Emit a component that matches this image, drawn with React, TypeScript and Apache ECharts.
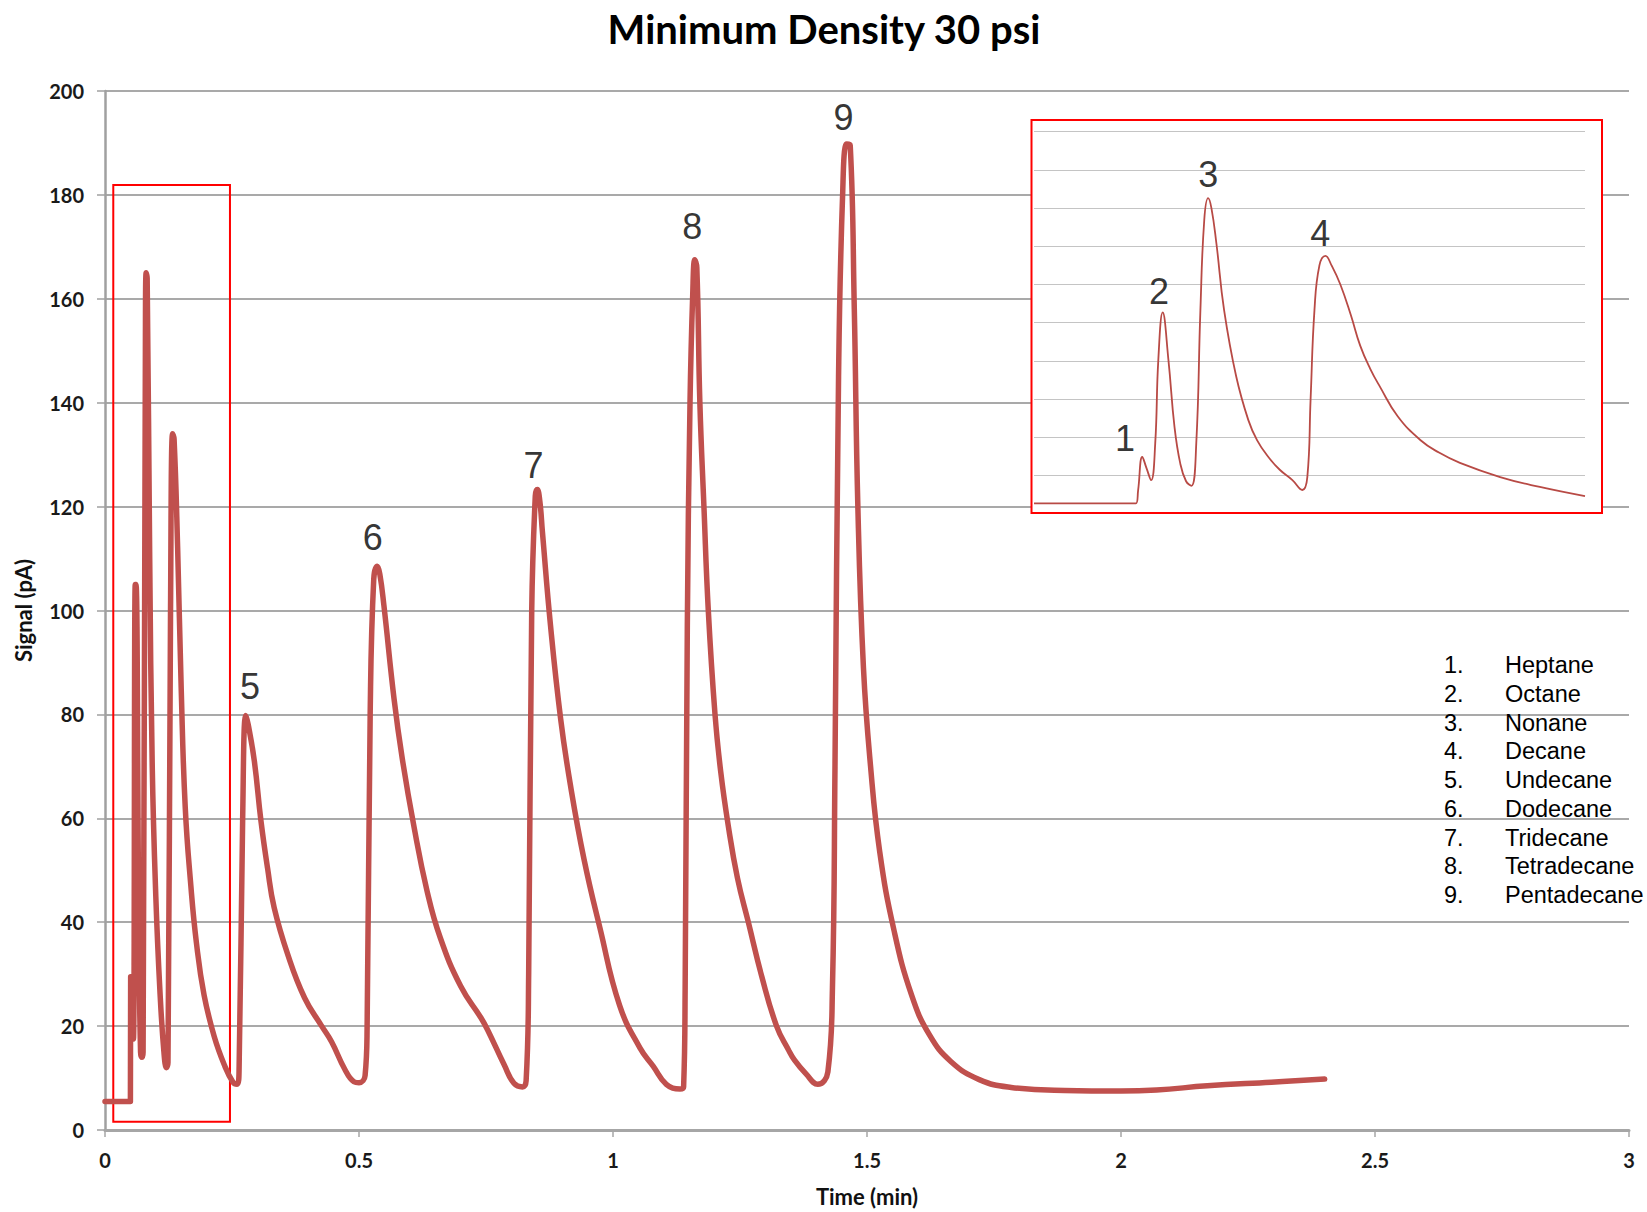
import React, { useEffect, useRef } from "react";
import * as echarts from "echarts";

// ---- main chromatogram (time in min, signal in pA) ----
const mainTime = [
  0.0, 0.05, 0.0505, 0.053, 0.054, 0.056, 0.0595, 0.061, 0.0665, 0.07, 0.073, 0.075,
  0.0795, 0.081, 0.083, 0.088, 0.093, 0.1, 0.108, 0.116, 0.121, 0.124, 0.129, 0.133,
  0.136, 0.143, 0.15, 0.158, 0.169, 0.18, 0.195, 0.215, 0.235, 0.252, 0.26, 0.264,
  0.271, 0.277, 0.282, 0.294, 0.307, 0.32, 0.333, 0.36, 0.393, 0.426, 0.446, 0.472,
  0.49, 0.5, 0.512, 0.516, 0.522, 0.529, 0.536, 0.541, 0.549, 0.569, 0.585, 0.608,
  0.634, 0.66, 0.7, 0.74, 0.753, 0.786, 0.805, 0.822, 0.829, 0.834, 0.84, 0.847,
  0.851, 0.856, 0.861, 0.877, 0.897, 0.916, 0.943, 0.974, 1.013, 1.053, 1.079, 1.105,
  1.132, 1.139, 1.142, 1.1463, 1.1516, 1.157, 1.161, 1.165, 1.171, 1.179, 1.1876, 1.2008,
  1.212, 1.227, 1.245, 1.2664, 1.293, 1.322, 1.345, 1.357, 1.38, 1.403, 1.423, 1.432,
  1.437, 1.444, 1.452, 1.46, 1.467, 1.475, 1.482, 1.493, 1.507, 1.525, 1.553, 1.588,
  1.623, 1.665, 1.721, 1.784, 1.889, 2.0, 2.07, 2.17, 2.296, 2.401,
];
const mainSignal = [
  5.5, 5.5, 29.5, 29.5, 17.5, 17.5, 105, 105, 40, 15, 14, 15,
  150, 165, 164, 110, 70, 45, 27, 15, 12, 13, 100, 134,
  133, 112, 85, 62, 47, 36, 26, 18, 12.5, 9.2, 8.8, 12,
  60, 79.8, 78, 71, 59.5, 50.4, 42.8, 33.7, 25.4, 20.1, 17, 11.7,
  9.3, 9.1, 10.5, 20, 80, 106, 108.5, 107, 101, 83, 71.6, 58.5,
  46, 37, 27.7, 21.6, 19.3, 12.5, 9, 8.3, 9.5, 30, 100, 122,
  123.3, 121, 115.2, 97.1, 79.1, 66.5, 52.1, 39, 24, 15.8, 12.3, 8.8,
  7.9, 8.3, 27, 97, 140, 161, 167.5, 166, 140, 120, 100, 80,
  69, 58.5, 48.5, 40, 29.5, 20, 15.5, 13.5, 10.8, 8.8, 11.2, 27.4,
  70, 145, 180, 189.8, 189.5, 158, 120, 89, 70, 53.6, 38.5, 25.9,
  18.3, 13.2, 9.7, 8.2, 7.6, 7.5, 7.7, 8.5, 9.2, 9.8,
];

// peak number labels on the main chart
const peakLabels = ["5", "6", "7", "8", "9"];
const peakLabelTime = [0.2854, 0.527, 0.8437, 1.156, 1.4537];
const peakLabelSignal = [85.4, 114.1, 128.0, 173.9, 194.9];

// ---- inset (enlargement of the first minutes, arbitrary units) ----
const insetX = [
  0, 18.5, 18.9, 19.65, 20.4, 21.25, 22.0, 22.56, 23.36, 24.4, 25.5, 26.55,
  27.6, 28.57, 29.45, 30.2, 30.9, 31.6, 32.2, 33.1, 34.5, 36.7, 38.9, 40.5,
  42.5, 44.6, 46.9, 48.7, 49.6, 50.2, 50.9, 51.8, 52.9, 54.0, 55.6, 57.5,
  59.2, 61.0, 62.8, 66.0, 70.1, 73.5, 77.3, 84.6, 91.8, 100,
];
const insetY = [
  0.27, 0.27, 0.62, 1.49, 1.2, 0.88, 1.84, 4.02, 5.27, 4.02, 2.27, 1.31,
  0.85, 0.73, 1.84, 5.33, 7.69, 8.26, 8.0, 7.08, 5.33, 3.59, 2.45, 1.92,
  1.49, 1.15, 0.88, 0.62, 0.95, 3.0, 5.33, 6.5, 6.75, 6.5, 6.0, 5.2,
  4.4, 3.8, 3.32, 2.55, 1.93, 1.6, 1.33, 0.96, 0.7, 0.46,
];
const insetLabels = ["1", "2", "3", "4"];
const insetLabelX = [16.53, 22.7, 31.63, 51.96];
const insetLabelY = [1.97, 5.81, 8.87, 7.34];

// ---- compound key ----
const keyNumbers = ["1.", "2.", "3.", "4.", "5.", "6.", "7.", "8.", "9."];
const keyNames = [
  "Heptane", "Octane", "Nonane", "Decane", "Undecane",
  "Dodecane", "Tridecane", "Tetradecane", "Pentadecane",
];

// highlighted region on main chart (data coords)
const boxTime = [0.0163, 0.246];
const boxSignal = [1.6, 181.9];

const xTicks = { min: 0, max: 3, interval: 0.5 };
const yTicks = { min: 0, max: 200, interval: 20 };

const LINE_COLOR = "#c0504d";
const AXIS_FONT = "Lato";

export default function App() {
  const ref = useRef<HTMLDivElement>(null);

  useEffect(() => {
    document.body.style.margin = "0";
    if (!ref.current) return;
    const chart = echarts.init(ref.current, undefined, { renderer: "svg" });

    const mainData = mainTime.map((t, i) => [t, mainSignal[i]]);
    const insetData = insetX.map((t, i) => [t, insetY[i]]);
    const peakData = peakLabels.map((l, i) => [peakLabelTime[i], peakLabelSignal[i], l]);
    const insetLabelData = insetLabels.map((l, i) => [insetLabelX[i], insetLabelY[i], l]);

    const keyGraphics: any[] = [];
    keyNumbers.forEach((n, i) => {
      const y = 665 + i * 28.75;
      keyGraphics.push({
        type: "text", x: 1444, y, z: 10,
        style: { text: n, fontSize: 23.5, fontFamily: "Liberation Sans", fill: "#000", align: "left", verticalAlign: "middle" },
      });
      keyGraphics.push({
        type: "text", x: 1505, y, z: 10,
        style: { text: keyNames[i], fontSize: 23.5, fontFamily: "Liberation Sans", fill: "#000", align: "left", verticalAlign: "middle" },
      });
    });

    chart.setOption({
      animation: false,
      backgroundColor: "#fff",
      title: {
        text: "Minimum Density 30 psi",
        left: 819,
        top: 4,
        textAlign: "center",
        textStyle: { fontFamily: AXIS_FONT, fontWeight: "bold", fontSize: 40, color: "#000" },
      },
      grid: [
        { left: 105, right: 18, top: 91, bottom: 81 },
        { left: 1034, top: 131.7, width: 551, height: 382 },
      ],
      xAxis: [
        {
          type: "value", gridIndex: 0, ...xTicks,
          name: "Time (min)", nameLocation: "middle", nameGap: 55,
          nameTextStyle: { fontFamily: AXIS_FONT, fontWeight: "bold", fontSize: 22, color: "#111" },
          axisLine: { show: true, onZero: false, lineStyle: { color: "#a6a6a6", width: 3 } },
          axisTick: { show: true, length: 7, lineStyle: { color: "#a6a6a6", width: 1.5 } },
          axisLabel: { margin: 20, fontFamily: AXIS_FONT, fontWeight: "bold", fontSize: 20, color: "#1a1a1a" },
          splitLine: { show: false },
        },
        { type: "value", gridIndex: 1, min: 0, max: 100, show: false },
      ],
      yAxis: [
        {
          type: "value", gridIndex: 0, ...yTicks,
          name: "Signal (pA)", nameLocation: "middle", nameGap: 71,
          nameTextStyle: { fontFamily: AXIS_FONT, fontWeight: "bold", fontSize: 22, color: "#111" },
          axisLine: { show: true, lineStyle: { color: "#a0a0a0", width: 2.5 } },
          axisTick: { show: true, length: 8, lineStyle: { color: "#a0a0a0", width: 1.5 } },
          axisLabel: { margin: 21, fontFamily: AXIS_FONT, fontWeight: "bold", fontSize: 20, color: "#1a1a1a" },
          splitLine: { show: true, lineStyle: { color: "#8c8c8c", width: 1.5 } },
        },
        {
          type: "value", gridIndex: 1, min: 0, max: 10, interval: 1, z: 4,
          axisLine: { show: false }, axisTick: { show: false }, axisLabel: { show: false },
          splitLine: { show: true, lineStyle: { color: "#c4c4c4", width: 1.2 } },
        },
      ],
      graphic: [
        { type: "rect", z: 3, shape: { x: 1031.5, y: 120, width: 570.5, height: 393 }, style: { fill: "#fff", stroke: "none" } },
        { type: "rect", z: 20, shape: { x: 1031.5, y: 120, width: 570.5, height: 393 }, style: { fill: "none", stroke: "#ff0000", lineWidth: 2 } },
        ...keyGraphics,
      ],
      series: [
        {
          type: "line", xAxisIndex: 0, yAxisIndex: 0, data: mainData,
          showSymbol: false, symbol: "none", smooth: 0.45, z: 2,
          lineStyle: { color: LINE_COLOR, width: 5.5, join: "round", cap: "round" },
          markArea: {
            silent: true,
            label: { show: false },
            itemStyle: { color: "rgba(0,0,0,0)", borderColor: "#ff0000", borderWidth: 2 },
            data: [[{ coord: [boxTime[0], boxSignal[1]] }, { coord: [boxTime[1], boxSignal[0]] }]],
          },
        },
        {
          type: "scatter", xAxisIndex: 0, yAxisIndex: 0, data: peakData,
          symbolSize: 0, silent: true, z: 6,
          label: {
            show: true, position: "inside", formatter: (p: any) => p.value[2],
            fontFamily: "Liberation Sans", fontSize: 36, color: "#000",
          },
        },
        {
          type: "line", xAxisIndex: 1, yAxisIndex: 1, data: insetData,
          showSymbol: false, symbol: "none", smooth: 0.45, z: 6,
          lineStyle: { color: "#b84a45", width: 1.8 },
        },
        {
          type: "scatter", xAxisIndex: 1, yAxisIndex: 1, data: insetLabelData,
          symbolSize: 0, silent: true, z: 7,
          label: {
            show: true, position: "inside", formatter: (p: any) => p.value[2],
            fontFamily: "Liberation Sans", fontSize: 36, color: "#000",
          },
        },
      ],
    });

    return () => chart.dispose();
  }, []);

  return <div ref={ref} style={{ width: 1647, height: 1212 }} />;
}
